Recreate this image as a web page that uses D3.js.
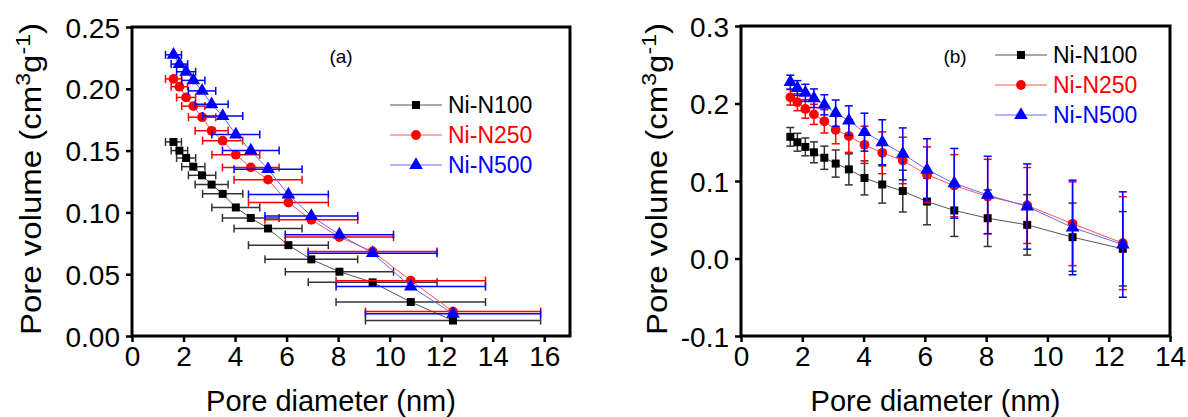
<!DOCTYPE html>
<html>
<head>
<meta charset="utf-8">
<script src="https://cdn.jsdelivr.net/npm/d3@7"></script>
<style>
  body { margin: 0; background: #fff; }
  svg { display: block; font-family: "Liberation Sans", Arial, sans-serif; }
</style>
</head>
<body>
<svg width="1188" height="417"></svg>
<script>
// pore diameters (nm), shared by all three samples
var poreDiameter = [1.61, 1.84, 2.10, 2.38, 2.72, 3.09, 3.52, 4.03, 4.61, 5.28, 6.07, 6.96, 8.05, 9.34, 10.82, 12.46]
// horizontal error (nm) in panel (a)
var diameterErr = [0.31, 0.32, 0.37, 0.45, 0.53, 0.64, 0.78, 0.93, 1.10, 1.32, 1.55, 1.80, 2.10, 2.50, 2.90, 3.40]

var seriesNames = ['Ni-N100', 'Ni-N250', 'Ni-N500']
var volN100 = [0.157, 0.150, 0.144, 0.137, 0.130, 0.1225, 0.115, 0.104, 0.0955, 0.087, 0.0735, 0.062, 0.052, 0.0434, 0.0275, 0.0125]
var volN250 = [0.208, 0.2017, 0.193, 0.186, 0.177, 0.166, 0.158, 0.1467, 0.1364, 0.1265, 0.108, 0.094, 0.080, 0.0684, 0.0448, 0.0198]
var volN500 = [0.2275, 0.220, 0.2138, 0.2068, 0.1983, 0.1875, 0.178, 0.163, 0.150, 0.135, 0.1145, 0.097, 0.082, 0.067, 0.040, 0.018]
// vertical error in panel (b)
var errN100 = [0.012, 0.0115, 0.0115, 0.0135, 0.015, 0.0175, 0.020, 0.022, 0.024, 0.027, 0.030, 0.0335, 0.0365, 0.039, 0.044, 0.048]
var errN250 = [0.010, 0.011, 0.012, 0.013, 0.015, 0.018, 0.021, 0.024, 0.027, 0.030, 0.036, 0.040, 0.048, 0.049, 0.054, 0.060]
var errN500 = [0.009, 0.0095, 0.011, 0.012, 0.013, 0.017, 0.019, 0.0245, 0.029, 0.0335, 0.040, 0.045, 0.050, 0.055, 0.061, 0.068]

var xTicksA = [0, 2, 4, 6, 8, 10, 12, 14, 16]
var yTicksA = [0, 0.05, 0.10, 0.15, 0.20, 0.25]
var xTicksB = [0, 2, 4, 6, 8, 10, 12, 14]
var yTicksB = [-0.1, 0, 0.1, 0.2, 0.3]

var colors = ['#000000', '#ff0000', '#0000ff']
var lineColors = ['#555555', '#ff5555', '#6666ff']
var barColors = ['#333333', '#ff0000', '#0000ff']
var symbols = [d3.symbolSquare, d3.symbolCircle, d3.symbolTriangle]
var symSizes = [64, 75, 80]

var series = seriesNames.map((name, i) => ({
    name: name,
    vol: [volN100, volN250, volN500][i],
    err: [errN100, errN250, errN500][i],
    color: colors[i], lineColor: lineColors[i], barColor: barColors[i],
    symbol: symbols[i], size: symSizes[i]
}))

var svg = d3.select('svg')

function drawPanel(opt) {
    var g = svg.append('g')
    var x = d3.scaleLinear().domain(opt.xDomain).range(opt.xRange)
    var y = d3.scaleLinear().domain(opt.yDomain).range(opt.yRange)
    var fmt = d3.format(opt.yFormat)

    var xAxis = g.append('g')
        .attr('transform', `translate(0,${opt.yRange[0]})`)
        .call(d3.axisBottom(x).tickValues(opt.xTicks).tickSize(6).tickSizeOuter(0).tickPadding(4).tickFormat(d3.format('d')))
    var yAxis = g.append('g')
        .attr('transform', `translate(${opt.xRange[0]},0)`)
        .call(d3.axisLeft(y).tickValues(opt.yTicks).tickSize(6).tickSizeOuter(0).tickPadding(6)
            .tickFormat(d => fmt(d).replace('\u2212', '-')))
    ;[xAxis, yAxis].forEach(a => {
        a.select('.domain').remove()
        a.selectAll('.tick line').attr('stroke', '#000').attr('stroke-width', 2.5)
        a.selectAll('.tick text').attr('fill', '#000').style('font-size', '28px')
    })
    yAxis.selectAll('.tick text').attr('dy', '0.36em')

    // frame
    g.append('rect')
        .attr('x', opt.xRange[0]).attr('y', opt.yRange[1])
        .attr('width', opt.xRange[1] - opt.xRange[0])
        .attr('height', opt.yRange[0] - opt.yRange[1])
        .attr('fill', 'none').attr('stroke', '#000').attr('stroke-width', 3)

    var line = d3.line().x((d, i) => x(poreDiameter[i])).y(d => y(d))

    series.forEach(s => {
        var sg = g.append('g')
        // error bars
        poreDiameter.forEach((d, i) => {
            if (opt.horizontal) {
                var x0 = x(d - diameterErr[i]), x1 = x(d + diameterErr[i]), yy = y(s.vol[i])
                sg.append('line').attr('x1', x0).attr('x2', x1).attr('y1', yy).attr('y2', yy)
                sg.append('line').attr('x1', x0).attr('x2', x0).attr('y1', yy - 4).attr('y2', yy + 4)
                sg.append('line').attr('x1', x1).attr('x2', x1).attr('y1', yy - 4).attr('y2', yy + 4)
            } else {
                var y0 = y(s.vol[i] - s.err[i]), y1 = y(s.vol[i] + s.err[i]), xx = x(d)
                sg.append('line').attr('x1', xx).attr('x2', xx).attr('y1', y0).attr('y2', y1)
                sg.append('line').attr('x1', xx - 4).attr('x2', xx + 4).attr('y1', y0).attr('y2', y0)
                sg.append('line').attr('x1', xx - 4).attr('x2', xx + 4).attr('y1', y1).attr('y2', y1)
            }
        })
        sg.selectAll('line').attr('stroke', s.barColor).attr('stroke-width', 1.5)

        sg.append('path').attr('d', line(s.vol))
            .attr('fill', 'none').attr('stroke', s.lineColor).attr('stroke-width', 1)

        sg.selectAll('.pt').data(s.vol).enter().append('path')
            .attr('class', 'pt')
            .attr('d', d3.symbol().type(s.symbol).size(s.size))
            .attr('transform', (d, i) => `translate(${x(poreDiameter[i])},${y(d)})`)
            .attr('fill', s.color)
    })

    // legend
    series.forEach((s, i) => {
        var ly = opt.legend.y + i * opt.legend.step
        var lx = opt.legend.x
        g.append('line').attr('x1', lx).attr('x2', lx + 52).attr('y1', ly).attr('y2', ly)
            .attr('stroke', s.lineColor).attr('stroke-width', 1)
        g.append('path').attr('d', d3.symbol().type(s.symbol).size(s.size)())
            .attr('transform', `translate(${lx + 26},${ly})`).attr('fill', s.color)
        g.append('text').attr('x', lx + 58).attr('y', ly).attr('dy', '0.35em')
            .style('font-size', '23px').attr('fill', s.color).text(s.name)
    })

    g.append('text').attr('x', opt.tag.x).attr('y', opt.tag.y)
        .attr('text-anchor', 'middle').style('font-size', '19px').text(opt.tag.text)

    // axis titles
    g.append('text')
        .attr('x', (opt.xRange[0] + opt.xRange[1]) / 2 - 20).attr('y', 411)
        .attr('text-anchor', 'middle').style('font-size', '29px')
        .text('Pore diameter (nm)')

    var yt = g.append('text')
        .attr('transform', `translate(${opt.yTitleX},179) rotate(-90)`)
        .attr('text-anchor', 'middle').style('font-size', '30px')
        .attr('textLength', 312).attr('lengthAdjust', 'spacingAndGlyphs')
    yt.append('tspan').text('Pore volume (cm')
    yt.append('tspan').attr('baseline-shift', 'super').style('font-size', '21px').text('3')
    yt.append('tspan').text('g')
    yt.append('tspan').attr('baseline-shift', 'super').style('font-size', '21px').text('-1')
    yt.append('tspan').text(')')
}

drawPanel({
    xDomain: [0, 17], xRange: [132, 570],
    yDomain: [0, 0.25], yRange: [336, 27],
    xTicks: xTicksA, yTicks: yTicksA, yFormat: '.2f',
    horizontal: true,
    legend: { x: 390, y: 105, step: 30 },
    tag: { x: 341, y: 63, text: '(a)' },
    yTitleX: 41
})

drawPanel({
    xDomain: [0, 14], xRange: [741, 1170],
    yDomain: [-0.1, 0.3], yRange: [336, 26],
    xTicks: xTicksB, yTicks: yTicksB, yFormat: '.1f',
    horizontal: false,
    legend: { x: 995, y: 55, step: 30 },
    tag: { x: 955, y: 63, text: '(b)' },
    yTitleX: 667
})
</script>
</body>
</html>
